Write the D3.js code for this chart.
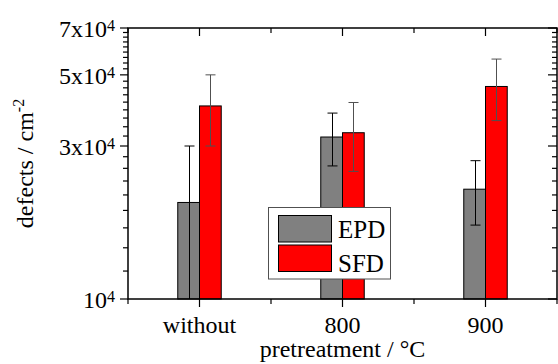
<!DOCTYPE html>
<html>
<head>
<meta charset="utf-8">
<script src="https://cdn.jsdelivr.net/npm/d3@7"></script>
<style>
  body { margin: 0; background: #fff; }
</style>
</head>
<body>
<svg id="chart" width="558" height="364" font-family="'Liberation Serif', Tinos, 'Times New Roman', Times, 'DejaVu Serif', serif"></svg>
<script>
// data
const categories = ["without", "800", "900"];
const epdValues = [2.0e4, 3.2e4, 2.2e4];
const epdErrors = [1.0e4, 0.6e4, 0.5e4];
const sfdValues = [4.0e4, 3.3e4, 4.6e4];
const sfdErrors = [1.0e4, 0.8e4, 1.0e4];
const yMajorTicks = [1e4, 3e4, 5e4, 7e4];
const yTickLabels = [["", "10", "4"], ["3x", "10", "4"], ["5x", "10", "4"], ["7x", "10", "4"]];

const svg = d3.select("#chart");
const plotLeft = 128, plotRight = 557, plotTop = 28, plotBottom = 299;

const x = d3.scaleLinear().domain([0.5, 3.5]).range([plotLeft, plotRight]);
const y = d3.scaleLog().domain([1e4, 7e4]).range([plotBottom, plotTop]);
const barW = 0.152;

// minor ticks : 9 steps between each major tick
let yMinor = [];
for (let i = 0; i < yMajorTicks.length - 1; i++) {
  let step = (yMajorTicks[i + 1] - yMajorTicks[i]) / 9;
  for (let k = 1; k < 9; k++) yMinor.push(yMajorTicks[i] + k * step);
}
const xMajor = [1, 2, 3];
const xMinor = [0.5, 1.5, 2.5, 3.5];

function drawBars(values, offset, color) {
  svg.append("g")
    .selectAll("rect")
    .data(values)
    .join("rect")
    .attr("x", (d, i) => x(i + 1 + offset))
    .attr("width", x(1 + barW) - x(1))
    .attr("y", d => y(d))
    .attr("height", d => y(1e4) - y(d))
    .attr("fill", color)
    .attr("stroke", "#000")
    .attr("stroke-width", 1);
}

function drawErrors(values, errors, offset, color) {
  let g = svg.append("g").attr("stroke", color).attr("stroke-width", 1);
  values.forEach(function (v, i) {
    let cx = Math.round(x(i + 1 + offset + barW / 2)) + 0.5;
    let hi = y(v + errors[i]);
    let loVal = Math.max(v - errors[i], 1e4);
    let lo = y(loVal);
    g.append("line").attr("x1", cx).attr("x2", cx).attr("y1", hi).attr("y2", lo);
    g.append("line").attr("x1", cx - 5).attr("x2", cx + 5).attr("y1", hi).attr("y2", hi);
    if (loVal > 1e4) {
      g.append("line").attr("x1", cx - 5).attr("x2", cx + 5).attr("y1", lo).attr("y2", lo);
    }
  });
}

drawBars(epdValues, -barW, "#808080");
drawBars(sfdValues, 0, "#ff0000");
drawErrors(epdValues, epdErrors, -barW, "#000");
drawErrors(sfdValues, sfdErrors, 0, "#505050");

// frame
svg.append("rect")
  .attr("x", plotLeft).attr("y", plotTop)
  .attr("width", plotRight - plotLeft).attr("height", plotBottom - plotTop)
  .attr("fill", "none").attr("stroke", "#000").attr("stroke-width", 1.5);

// axes with ticks
const axisG = svg.append("g").attr("stroke", "#000").attr("stroke-width", 1.2);
function tick(x1, y1, x2, y2) {
  axisG.append("line").attr("x1", x1).attr("y1", y1).attr("x2", x2).attr("y2", y2);
}
yMajorTicks.forEach(v => { tick(plotLeft - 8, y(v), plotLeft, y(v)); tick(plotRight - 9, y(v), plotRight, y(v)); });
yMinor.forEach(v => { tick(plotLeft - 5, y(v), plotLeft, y(v)); tick(plotRight - 5, y(v), plotRight, y(v)); });
xMajor.forEach(v => { tick(x(v), plotBottom, x(v), plotBottom + 8); tick(x(v), plotTop, x(v), plotTop + 8); });
xMinor.forEach(v => { tick(x(v), plotBottom, x(v), plotBottom + 5); tick(x(v), plotTop, x(v), plotTop + 5); });

// y tick labels with superscript
yMajorTicks.forEach(function (v, i) {
  let lab = yTickLabels[i];
  let t = svg.append("text")
    .attr("x", 115).attr("y", y(v) + 9)
    .attr("text-anchor", "end")
    .attr("font-size", 24);
  t.append("tspan").text(lab[0] + lab[1]);
  t.append("tspan").attr("dy", -6).attr("font-size", 16).text(lab[2]);
});

// x tick labels
svg.append("g")
  .selectAll("text")
  .data(categories)
  .join("text")
  .attr("x", (d, i) => x(i + 1))
  .attr("y", 333)
  .attr("text-anchor", "middle")
  .attr("font-size", 24)
  .text(d => d);

// axis titles
svg.append("text")
  .attr("x", (plotLeft + plotRight) / 2).attr("y", 357)
  .attr("text-anchor", "middle")
  .attr("font-size", 24)
  .text("pretreatment / °C");

let yt = svg.append("text")
  .attr("transform", "translate(33," + ((plotTop + plotBottom) / 2) + ") rotate(-90)")
  .attr("text-anchor", "middle")
  .attr("font-size", 24);
yt.append("tspan").text("defects / cm");
yt.append("tspan").attr("dy", -9).attr("font-size", 16).text("-2");

// legend
const legend = svg.append("g");
legend.append("rect")
  .attr("x", 268.5).attr("y", 207.5).attr("width", 122).attr("height", 71.5)
  .attr("fill", "#fff").attr("stroke", "#505050").attr("stroke-width", 1);
const legendItems = [["EPD", "#808080"], ["SFD", "#ff0000"]];
legendItems.forEach(function (item, i) {
  legend.append("rect")
    .attr("x", 278.5).attr("y", 215.5 + i * 29.5).attr("width", 53).attr("height", 26.5)
    .attr("fill", item[1]).attr("stroke", "#000").attr("stroke-width", 1);
  legend.append("text")
    .attr("x", 338).attr("y", 237.5 + i * 34)
    .attr("font-size", 25)
    .text(item[0]);
});
</script>
</body>
</html>
